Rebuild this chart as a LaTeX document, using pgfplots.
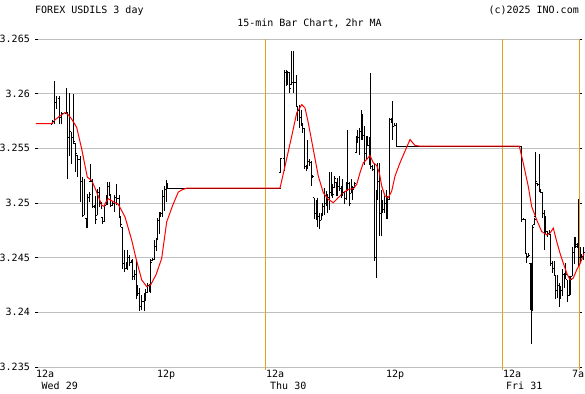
\documentclass[border=0pt]{standalone}
\usepackage{pgfplots}
\pgfplotsset{compat=1.18}
\usepackage{pgfplotstable}
\usepackage{fontspec}
\setmainfont{DejaVu Sans Mono}
\definecolor{daycol}{RGB}{230,160,20}
% open / close of each 15-min bar
\pgfplotstableread{
x o c
52 3.2572 3.2575
54 3.2575 3.2592
56 3.2592 3.2596
59 3.2596 3.2578
61.5 3.2578 3.2582
66 3.2582 3.2583
67.7 3.2583 3.2560
69.3 3.2560 3.2565
71 3.2565 3.2560
73.3 3.2560 3.2556
75.7 3.2554 3.2545
77.5 3.2543 3.2540
80 3.2540 3.2520
82 3.2520 3.2489
84 3.2489 3.2521
86 3.2486 3.2478
87.7 3.2478 3.2505
89.3 3.2505 3.2508
90.7 3.2520 3.2520
92.7 3.2520 3.2497
94.7 3.2497 3.2496
95.7 3.2496 3.2485
97.3 3.2489 3.2510
99.3 3.2510 3.2500
101 3.2500 3.2495
102.7 3.2487 3.2483
104 3.2483 3.2496
106 3.2498 3.2506
107.7 3.2506 3.2515
109.3 3.2515 3.2508
110.7 3.2507 3.2498
112.7 3.2498 3.2500
114.7 3.2500 3.2505
116.7 3.2505 3.2504
119.3 3.2504 3.2488
120.7 3.2487 3.2480
122.7 3.2478 3.2445
124.3 3.2445 3.2440
126 3.2440 3.2442
127.7 3.2442 3.2450
129.3 3.2450 3.2446
131 3.2446 3.2446
132.7 3.2446 3.2433
134.3 3.2433 3.2435
136 3.2435 3.2420
137.7 3.2420 3.2417
139.3 3.2417 3.2405
141.7 3.2405 3.2410
144 3.2410 3.2415
145.7 3.2415 3.2418
147.3 3.2418 3.2425
149 3.2425 3.2424
150.7 3.2424 3.2446
152.3 3.2447 3.2448
154 3.2448 3.2460
156 3.2460 3.2465
157.3 3.2466 3.2484
159 3.2484 3.2488
160.7 3.2488 3.2490
162.3 3.2490 3.2506
164.3 3.2506 3.2512
166 3.2512 3.2515
167.3 3.2515 3.25136
280.7 3.2528 3.2541
284.3 3.2541 3.2619
286 3.2619 3.2620
287.7 3.2620 3.2619
289.3 3.2619 3.2605
291 3.2608 3.2610
293.3 3.2610 3.2610
296 3.2610 3.2590
297.7 3.2588 3.2585
299.3 3.2585 3.2578
301 3.2578 3.2572
302.7 3.2572 3.2568
304.3 3.2568 3.2533
306 3.2533 3.2534
307.7 3.2534 3.2538
309.3 3.2538 3.2537
311 3.2537 3.2525
312.7 3.2525 3.2524
314.3 3.2505 3.2490
316 3.2490 3.2490
317.7 3.2490 3.2488
319.3 3.2488 3.2484
321 3.2484 3.2488
322.7 3.2489 3.2497
324.3 3.2497 3.2500
326 3.2500 3.2502
327.7 3.2502 3.2505
329.3 3.2505 3.2510
331 3.2510 3.2520
332.7 3.2517 3.2508
334.3 3.2514 3.2522
336 3.2519 3.2510
337.7 3.2510 3.2515
339.3 3.2515 3.2513
341 3.2513 3.2508
342.7 3.2508 3.2510
344.3 3.2510 3.2504
346 3.2504 3.2515
347.7 3.2515 3.2518
349.3 3.2518 3.2500
351 3.2509 3.2515
352.7 3.2515 3.2512
354.3 3.2514 3.2518
356 3.2546 3.2555
357.7 3.2555 3.2560
359.3 3.2560 3.2565
361 3.2565 3.2580
362.7 3.2580 3.2562
364.3 3.2562 3.2545
366 3.2545 3.2555
367.7 3.2555 3.2553
369.3 3.2553 3.2538
370.7 3.2538 3.2533
372.7 3.2533 3.2531
374.3 3.2531 3.2450
376 3.2450 3.2440
377.7 3.2503 3.2520
379.3 3.2520 3.2490
381 3.2490 3.2495
382.7 3.2495 3.2494
384.3 3.2494 3.2500
386 3.2500 3.2495
387.7 3.2495 3.2503
389.3 3.2503 3.2576
391 3.2576 3.2575
392.7 3.2575 3.2570
394.3 3.2570 3.2571
396 3.2571 3.2552
521.7 3.2552 3.2485
523.3 3.2485 3.2485
525 3.2485 3.2455
526.7 3.2454 3.2450
528.3 3.2451 3.2452
530 3.2445 3.2405
531.5 3.2405 3.2402
532.7 3.2402 3.2478
534.3 3.2480 3.2485
535.7 3.2488 3.2520
537.3 3.2518 3.2517
539 3.2517 3.2512
540.7 3.2512 3.2510
542.3 3.2510 3.2490
544 3.2490 3.2478
545.7 3.2478 3.2474
547.3 3.2474 3.2472
549 3.2472 3.2473
550.7 3.2471 3.2445
552.3 3.2445 3.2440
554 3.2440 3.2438
555.7 3.2434 3.2420
557.3 3.2420 3.2425
559 3.2425 3.2415
560.7 3.2415 3.2420
562.3 3.2420 3.2435
564 3.2435 3.2430
565.7 3.2431 3.2435
567.3 3.2430 3.2415
569 3.2415 3.2425
570.7 3.2425 3.2430
572.3 3.2433 3.2455
574 3.2455 3.2460
575.7 3.2460 3.2462
577.3 3.2460 3.2460
578.3 3.2460 3.2450
580 3.2450 3.2450
581.7 3.2450 3.2451
583.3 3.2451 3.2455
}\oc

\begin{document}
\begin{tikzpicture}[font=\fontsize{10bp}{12bp}\selectfont]
\useasboundingbox (0,0) rectangle (585bp,-394bp);
\begin{axis}[
  at={(38bp,-39bp)}, anchor=north west,
  scale only axis, width=541bp, height=328bp,
  xmin=38, xmax=579, ymin=3.235, ymax=3.265,
  clip=false,
  axis line style={draw=none},
  ytick={3.235,3.24,3.245,3.25,3.255,3.26,3.265},
  yticklabels={3.235,3.24,3.245,3.25,3.255,3.26,3.265},
  ytick pos=both, yticklabel pos=left,
  tick align=outside, major tick length=3bp,
  ytick style={black, line width=1bp},
  ymajorgrids, grid style={gray!50, line width=1bp},
  xtick={38,159,268,388,505,574},
  xticklabels={12a,12p,12a,12p,12a,7a},
  xtick style={draw=none},
  xtick pos=bottom,
  xticklabel style={anchor=north west, inner sep=0pt, xshift=-2bp},
  yticklabel style={anchor=east, inner sep=0pt, xshift=-5bp},
  ticklabel style={font=\fontsize{10bp}{12bp}\selectfont},
  /pgf/number format/assume math mode=true,
  unbounded coords=jump,
]
\draw[daycol, line width=1bp] (axis cs:265,3.265) -- (axis cs:265,3.2347);
\draw[daycol, line width=1bp] (axis cs:502.3,3.265) -- (axis cs:502.3,3.2347);
\draw[daycol, line width=1bp] (axis cs:579,3.265) -- (axis cs:579,3.2347);

% high-low range of each bar (low, high, break)
\addplot[black, line width=1bp] coordinates {
(52,3.2572) (52,3.2576) (52,nan)
(54,3.2572) (54,3.2612) (54,nan)
(56,3.2586) (56,3.2598) (56,nan)
(59,3.2572) (59,3.2598) (59,nan)
(61.5,3.2572) (61.5,3.2583) (61.5,nan)
(66,3.2581) (66,3.26055) (66,nan)
(67.7,3.2522) (67.7,3.2583) (67.7,nan)
(69.3,3.2543) (69.3,3.2601) (69.3,nan)
(71,3.2536) (71,3.2565) (71,nan)
(73.3,3.2554) (73.3,3.2600) (73.3,nan)
(75.7,3.2528) (75.7,3.2554) (75.7,nan)
(77.5,3.2524) (77.5,3.2543) (77.5,nan)
(80,3.2501) (80,3.2543) (80,nan)
(82,3.2487) (82,3.2524) (82,nan)
(84,3.2489) (84,3.2522) (84,nan)
(86,3.2477) (86,3.2486) (86,nan)
(87.7,3.2477) (87.7,3.2508) (87.7,nan)
(89.3,3.2501) (89.3,3.2510) (89.3,nan)
(90.7,3.2519) (90.7,3.2536) (90.7,nan)
(92.7,3.2495) (92.7,3.2522) (92.7,nan)
(94.7,3.2495) (94.7,3.2498) (94.7,nan)
(95.7,3.2481) (95.7,3.2506) (95.7,nan)
(97.3,3.2489) (97.3,3.2513) (97.3,nan)
(99.3,3.2496) (99.3,3.2515) (99.3,nan)
(101,3.2495) (101,3.2501) (101,nan)
(102.7,3.2481) (102.7,3.2487) (102.7,nan)
(104,3.2483) (104,3.2498) (104,nan)
(106,3.2498) (106,3.2507) (106,nan)
(107.7,3.2498) (107.7,3.2519) (107.7,nan)
(109.3,3.2506) (109.3,3.2519) (109.3,nan)
(110.7,3.2496) (110.7,3.2507) (110.7,nan)
(112.7,3.2498) (112.7,3.2502) (112.7,nan)
(114.7,3.2492) (114.7,3.2507) (114.7,nan)
(116.7,3.2498) (116.7,3.2517) (116.7,nan)
(119.3,3.2486) (119.3,3.2507) (119.3,nan)
(120.7,3.2478) (120.7,3.2487) (120.7,nan)
(122.7,3.2440) (122.7,3.2478) (122.7,nan)
(124.3,3.2437) (124.3,3.2457) (124.3,nan)
(126,3.2440) (126,3.2446) (126,nan)
(127.7,3.2439) (127.7,3.2457) (127.7,nan)
(129.3,3.2442) (129.3,3.2452) (129.3,nan)
(131,3.2445) (131,3.2448) (131,nan)
(132.7,3.2430) (132.7,3.2449) (132.7,nan)
(134.3,3.2430) (134.3,3.2439) (134.3,nan)
(136,3.2412) (136,3.2449) (136,nan)
(137.7,3.2415) (137.7,3.2425) (137.7,nan)
(139.3,3.2401) (139.3,3.2422) (139.3,nan)
(141.7,3.2402) (141.7,3.2416) (141.7,nan)
(144,3.2401) (144,3.2418) (144,nan)
(145.7,3.2410) (145.7,3.2421) (145.7,nan)
(147.3,3.2418) (147.3,3.2427) (147.3,nan)
(149,3.2419) (149,3.2426) (149,nan)
(150.7,3.2418) (150.7,3.2449) (150.7,nan)
(152.3,3.2447) (152.3,3.2450) (152.3,nan)
(154,3.2448) (154,3.2466) (154,nan)
(156,3.2456) (156,3.2468) (156,nan)
(157.3,3.2466) (157.3,3.2486) (157.3,nan)
(159,3.2472) (159,3.2492) (159,nan)
(160.7,3.2487) (160.7,3.2492) (160.7,nan)
(162.3,3.2487) (162.3,3.2512) (162.3,nan)
(164.3,3.2493) (164.3,3.2516) (164.3,nan)
(166,3.2501) (166,3.2521) (166,nan)
(167.3,3.2514) (167.3,3.2518) (167.3,nan)
(280.7,3.2528) (280.7,3.2541) (280.7,nan)
(284.3,3.2529) (284.3,3.2622) (284.3,nan)
(286,3.2607) (286,3.2622) (286,nan)
(287.7,3.2608) (287.7,3.2620) (287.7,nan)
(289.3,3.2601) (289.3,3.2620) (289.3,nan)
(291,3.2608) (291,3.2639) (291,nan)
(293.3,3.2601) (293.3,3.2639) (293.3,nan)
(296,3.2588) (296,3.2617) (296,nan)
(297.7,3.2575) (297.7,3.2588) (297.7,nan)
(299.3,3.2569) (299.3,3.2590) (299.3,nan)
(301,3.2570) (301,3.2585) (301,nan)
(302.7,3.2564) (302.7,3.2573) (302.7,nan)
(304.3,3.2531) (304.3,3.2569) (304.3,nan)
(306,3.2529) (306,3.2535) (306,nan)
(307.7,3.2531) (307.7,3.2558) (307.7,nan)
(309.3,3.2534) (309.3,3.2540) (309.3,nan)
(311,3.2516) (311,3.2538) (311,nan)
(312.7,3.2523) (312.7,3.2526) (312.7,nan)
(314.3,3.2485) (314.3,3.2505) (314.3,nan)
(316,3.2484) (316,3.2503) (316,nan)
(317.7,3.2478) (317.7,3.2505) (317.7,nan)
(319.3,3.2476) (319.3,3.2491) (319.3,nan)
(321,3.2484) (321,3.2491) (321,nan)
(322.7,3.2489) (322.7,3.2500) (322.7,nan)
(324.3,3.2489) (324.3,3.2514) (324.3,nan)
(326,3.2497) (326,3.2511) (326,nan)
(327.7,3.2491) (327.7,3.2508) (327.7,nan)
(329.3,3.2494) (329.3,3.2528) (329.3,nan)
(331,3.2506) (331,3.2528) (331,nan)
(332.7,3.2505) (332.7,3.2517) (332.7,nan)
(334.3,3.2514) (334.3,3.2525) (334.3,nan)
(336,3.2506) (336,3.2519) (336,nan)
(337.7,3.2506) (337.7,3.2523) (337.7,nan)
(339.3,3.2511) (339.3,3.2525) (339.3,nan)
(341,3.2505) (341,3.2516) (341,nan)
(342.7,3.2506) (342.7,3.2522) (342.7,nan)
(344.3,3.2499) (344.3,3.2511) (344.3,nan)
(346,3.2503) (346,3.2519) (346,nan)
(347.7,3.2511) (347.7,3.2567) (347.7,nan)
(349.3,3.2497) (349.3,3.2519) (349.3,nan)
(351,3.2509) (351,3.2522) (351,nan)
(352.7,3.2503) (352.7,3.2516) (352.7,nan)
(354.3,3.2514) (354.3,3.2519) (354.3,nan)
(356,3.2546) (356,3.2561) (356,nan)
(357.7,3.2555) (357.7,3.2567) (357.7,nan)
(359.3,3.2544) (359.3,3.2569) (359.3,nan)
(361,3.2558) (361,3.2585) (361,nan)
(362.7,3.2558) (362.7,3.2581) (362.7,nan)
(364.3,3.2535) (364.3,3.2570) (364.3,nan)
(366,3.2540) (366,3.2561) (366,nan)
(367.7,3.2552) (367.7,3.2561) (367.7,nan)
(369.3,3.2535) (369.3,3.2560) (369.3,nan)
(370.7,3.2531) (370.7,3.2619) (370.7,nan)
(372.7,3.2529) (372.7,3.2535) (372.7,nan)
(374.3,3.2447) (374.3,3.2537) (374.3,nan)
(376,3.2431) (376,3.2512) (376,nan)
(377.7,3.2503) (377.7,3.2537) (377.7,nan)
(379.3,3.2470) (379.3,3.2537) (379.3,nan)
(381,3.2470) (381,3.2512) (381,nan)
(382.7,3.2491) (382.7,3.2503) (382.7,nan)
(384.3,3.2491) (384.3,3.2506) (384.3,nan)
(386,3.2485) (386,3.2512) (386,nan)
(387.7,3.2485) (387.7,3.2506) (387.7,nan)
(389.3,3.2503) (389.3,3.2578) (389.3,nan)
(391,3.2573) (391,3.2578) (391,nan)
(392.7,3.2558) (392.7,3.2593) (392.7,nan)
(394.3,3.2570) (394.3,3.2573) (394.3,nan)
(396,3.2552) (396,3.2573) (396,nan)
(521.7,3.2483) (521.7,3.2552) (521.7,nan)
(523.3,3.2485) (523.3,3.2486) (523.3,nan)
(525,3.2453) (525,3.2485) (525,nan)
(526.7,3.2445) (526.7,3.2454) (526.7,nan)
(528.3,3.2451) (528.3,3.2454) (528.3,nan)
(530,3.2402) (530,3.2445) (530,nan)
(531.5,3.2371) (531.5,3.2445) (531.5,nan)
(532.7,3.2402) (532.7,3.2480) (532.7,nan)
(534.3,3.2480) (534.3,3.2486) (534.3,nan)
(535.7,3.2488) (535.7,3.2547) (535.7,nan)
(537.3,3.2516) (537.3,3.2518) (537.3,nan)
(539,3.2510) (539,3.2545) (539,nan)
(540.7,3.2509) (540.7,3.2512) (540.7,nan)
(542.3,3.2486) (542.3,3.2510) (542.3,nan)
(544,3.2457) (544,3.2494) (544,nan)
(545.7,3.2472) (545.7,3.2488) (545.7,nan)
(547.3,3.2469) (547.3,3.2474) (547.3,nan)
(549,3.2472) (549,3.2475) (549,nan)
(550.7,3.2442) (550.7,3.2471) (550.7,nan)
(552.3,3.2436) (552.3,3.2447) (552.3,nan)
(554,3.2434) (554,3.2447) (554,nan)
(555.7,3.2412) (555.7,3.2434) (555.7,nan)
(557.3,3.2413) (557.3,3.2434) (557.3,nan)
(559,3.2405) (559,3.2427) (559,nan)
(560.7,3.2412) (560.7,3.2424) (560.7,nan)
(562.3,3.2415) (562.3,3.2440) (562.3,nan)
(564,3.2422) (564,3.2436) (564,nan)
(565.7,3.2431) (565.7,3.2445) (565.7,nan)
(567.3,3.2409) (567.3,3.2430) (567.3,nan)
(569,3.2415) (569,3.2433) (569,nan)
(570.7,3.2416) (570.7,3.2433) (570.7,nan)
(572.3,3.2433) (572.3,3.2460) (572.3,nan)
(574,3.2444) (574,3.2469) (574,nan)
(575.7,3.2459) (575.7,3.2469) (575.7,nan)
(577.3,3.2459) (577.3,3.2463) (577.3,nan)
(578.3,3.2442) (578.3,3.2504) (578.3,nan)
(580,3.2445) (580,3.2460) (580,nan)
(581.7,3.2450) (581.7,3.2453) (581.7,nan)
(583.3,3.2448) (583.3,3.2460)
};
\addplot[black, only marks, mark=-, mark size=0.7bp, mark options={line width=1bp}]
  table[x expr=\thisrow{x}-0.7, y=o] {\oc};
\addplot[black, only marks, mark=-, mark size=0.7bp, mark options={line width=1bp}]
  table[x expr=\thisrow{x}+0.7, y=c] {\oc};

\addplot[black, line width=1bp] coordinates {(167.3,3.25136) (280.7,3.25136)};
\addplot[black, line width=1bp] coordinates {(396,3.2552) (521.7,3.2552)};

\addplot[red, line width=1bp] coordinates {
(36,3.25727) (51.7,3.25727) (55,3.2576) (60,3.25797) (65,3.25827) (68,3.2581)
(71.7,3.25767) (76.7,3.25691) (81.7,3.25494) (87.3,3.25236) (91.7,3.25206)
(96.7,3.251) (101.7,3.24979) (104,3.2497) (106,3.25009) (108.3,3.25039)
(115,3.25003) (118.3,3.24988) (125,3.24873) (131.7,3.24661) (136,3.24494)
(141.7,3.24297) (146.7,3.24236) (150.7,3.24252) (156,3.24343) (161.7,3.24494)
(166.7,3.24827) (172.7,3.24979) (178.3,3.251) (182,3.2512) (186.7,3.25136)
(280,3.25136) (285,3.25337) (291.7,3.25611) (296.7,3.25824) (301.7,3.259)
(305,3.25869) (308.3,3.25733) (313.3,3.25489) (318.3,3.25246) (323.3,3.25094)
(328.3,3.25033) (333.3,3.25003) (338.3,3.25049) (343.3,3.25094) (348.3,3.25125)
(353.3,3.25131) (356.7,3.2517) (360,3.25277) (363.3,3.25368) (366.7,3.25398)
(370,3.25435) (373.3,3.25368) (376.7,3.25343) (379.3,3.25277) (381.7,3.25155)
(385,3.25064) (388.3,3.25049) (391.7,3.25109) (395,3.25246) (400,3.25368)
(405,3.25474) (410,3.25581) (415,3.25526) (420,3.2552) (519.3,3.2552)
(523.3,3.25363) (528.3,3.2515) (531.7,3.24967) (536.7,3.24846) (541.7,3.24739)
(546.7,3.24709) (550,3.24724) (553.3,3.2477) (556.7,3.24648) (560,3.24541)
(563.3,3.2445) (566.7,3.24359) (570,3.24298) (573.3,3.24313) (576.7,3.24389)
(580,3.24444) (584,3.24535)};
\end{axis}
\node[anchor=base west, inner sep=0pt] at (35bp,-13bp) {FOREX USDILS 3 day};
\node[anchor=base, inner sep=0pt] at (309.5bp,-26.7bp) {15-min Bar Chart, 2hr MA};
\node[anchor=base east, inner sep=0pt] at (579bp,-13bp) {(c)2025 INO.com};
\node[anchor=base west, inner sep=0pt] at (41.5bp,-389.3bp) {Wed 29};
\node[anchor=base west, inner sep=0pt] at (270bp,-389.3bp) {Thu 30};
\node[anchor=base west, inner sep=0pt] at (506bp,-389.3bp) {Fri 31};
\end{tikzpicture}
\end{document}
